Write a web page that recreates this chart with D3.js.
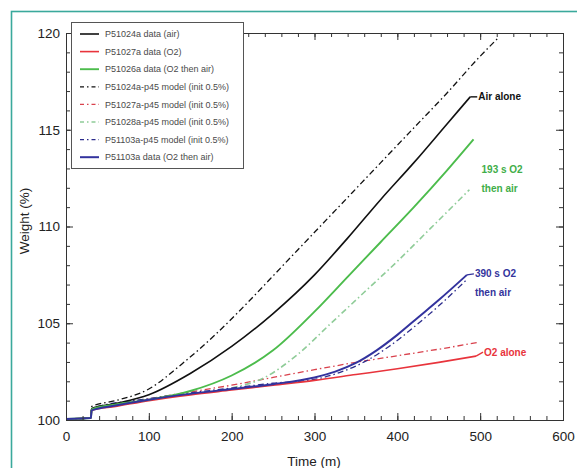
<!DOCTYPE html>
<html lang="en">
  <head>
    <meta charset="utf-8">
    <title>Weight vs time</title>
    <script src="https://d3js.org/d3.v7.min.js"></script>
    <style>
    body { margin: 0; background: #fff; }
    svg text { font-family: "Liberation Sans", Arial, sans-serif; }
    .axis path, .axis line { stroke: #333; }
    .axis text { font-size: 13.5px; fill: #222; }
    .title { font-size: 13.5px; fill: #222; }
    .legend text { font-size: 9px; fill: #4a4a4a; }
    .note { font-size: 10px; font-weight: bold; }
    </style>
  </head>
  <body>
    <svg id="chart" width="577" height="468"></svg>
    <script>

// series: [time (m), weight (%)]
const p51024aData = [[0,100.05],[30,100.1],[31,100.6],[60,100.85],[100,101.3],[150,102.4],[200,103.8],[250,105.5],[300,107.5],[340,109.4],[380,111.4],[420,113.3],[460,115.3],[488,116.7]];
const p51027aData = [[0,100.05],[30,100.1],[31,100.5],[60,100.7],[100,101.0],[150,101.3],[200,101.55],[250,101.8],[300,102.05],[350,102.35],[400,102.65],[450,102.98],[495,103.3]];
const p51026aData = [[0,100.05],[30,100.1],[31,100.55],[60,100.8],[100,101.05],[150,101.5],[200,102.3],[250,103.6],[300,105.6],[340,107.4],[380,109.2],[420,111.0],[460,112.9],[492,114.5]];
const p51024aModel = [[0,100.05],[30,100.1],[31,100.7],[60,101.0],[100,101.6],[140,102.9],[180,104.4],[220,106.1],[260,107.9],[300,109.7],[340,111.5],[380,113.3],[420,115.1],[460,116.9],[500,118.8],[523,119.8]];
const p51027aModel = [[0,100.05],[30,100.1],[31,100.55],[100,101.1],[150,101.45],[200,101.8],[250,102.2],[300,102.6],[350,102.98],[400,103.32],[450,103.66],[496,104.0]];
const p51028aModel = [[0,100.05],[30,100.1],[31,100.55],[100,101.05],[150,101.35],[200,101.65],[240,102.2],[280,103.4],[320,105.0],[360,106.6],[400,108.2],[440,109.9],[487,111.9]];
const p51103aModel = [[0,100.05],[30,100.1],[31,100.6],[100,101.1],[150,101.4],[200,101.65],[250,101.9],[300,102.1],[330,102.45],[360,103.0],[390,103.8],[420,104.8],[450,105.9],[485,107.3]];
const p51103aData = [[0,100.05],[30,100.1],[31,100.5],[60,100.75],[100,101.05],[150,101.35],[200,101.6],[250,101.85],[300,102.2],[325,102.5],[350,102.95],[375,103.6],[400,104.4],[425,105.3],[450,106.2],[484,107.5]];

const seriesNames = ["P51024a data (air)", "P51027a data (O2)", "P51026a data (O2 then air)",
  "P51024a-p45 model (init 0.5%)", "P51027a-p45 model (init 0.5%)", "P51028a-p45 model (init 0.5%)",
  "P51103a-p45 model (init 0.5%)", "P51103a data (O2 then air)"];

const xTicks = [0, 100, 200, 300, 400, 500, 600];
const yTicks = [100, 105, 110, 115, 120];

const series = [
  {name: seriesNames[3], values: p51024aModel, color: "#111", dash: "6,3,1.5,3", width: 1.3},
  {name: seriesNames[4], values: p51027aModel, color: "#d9424d", dash: "6,3,1.5,3", width: 1.3},
  {name: seriesNames[5], values: p51028aModel, color: "#8fcc98", dash: "6,3,1.5,3", width: 1.6},
  {name: seriesNames[6], values: p51103aModel, color: "#2c2c8c", dash: "6,3,1.5,3", width: 1.3},
  {name: seriesNames[0], values: p51024aData, color: "#111", dash: null, width: 1.6},
  {name: seriesNames[1], values: p51027aData, color: "#e8343c", dash: null, width: 1.6},
  {name: seriesNames[2], values: p51026aData, color: "#4cbc4c", dash: null, width: 1.9},
  {name: seriesNames[7], values: p51103aData, color: "#33339e", dash: null, width: 2}
];
const legendOrder = [4, 5, 6, 0, 1, 2, 3, 7];

const svg = d3.select("#chart");

// teal frame
svg.append("rect")
    .attr("x", 11.5)
    .attr("y", 11.5)
    .attr("width", 600)
    .attr("height", 500)
    .attr("fill", "none")
    .attr("stroke", "#3aa99c")
    .attr("stroke-width", 1.6);

const xScale = d3.scaleLinear().domain([0, 600]).range([66, 563]);
const yScale = d3.scaleLinear().domain([100, 120]).range([420, 33]);

const line = d3.line()
    .x(d => xScale(d[0]))
    .y(d => yScale(d[1]))
    .curve(d3.curveMonotoneX);

svg.selectAll("path.series")
    .data(series)
    .enter()
    .append("path")
    .attr("class", "series")
    .attr("d", d => line(d.values))
    .attr("fill", "none")
    .attr("stroke", d => d.color)
    .attr("stroke-width", d => d.width)
    .attr("stroke-dasharray", d => d.dash);

// axes, ticks pointing inward on all four sides
const minorX = d3.range(0, 601, 20);
const minorY = d3.range(100, 121, 1);

svg.append("g").attr("class", "axis")
    .attr("transform", "translate(0,420)")
    .call(d3.axisBottom(xScale).tickValues(minorX).tickSize(-4).tickFormat(""));
svg.append("g").attr("class", "axis")
    .attr("transform", "translate(0,420)")
    .call(d3.axisBottom(xScale).tickValues(xTicks).tickSizeInner(-7).tickSizeOuter(0).tickPadding(11));
svg.append("g").attr("class", "axis")
    .attr("transform", "translate(0,33)")
    .call(d3.axisTop(xScale).tickValues(minorX).tickSize(-4).tickFormat(""));
svg.append("g").attr("class", "axis")
    .attr("transform", "translate(0,33)")
    .call(d3.axisTop(xScale).tickValues(xTicks).tickSize(-7).tickFormat(""));

svg.append("g").attr("class", "axis")
    .attr("transform", "translate(66,0)")
    .call(d3.axisLeft(yScale).tickValues(minorY).tickSize(-4).tickFormat(""));
svg.append("g").attr("class", "axis")
    .attr("transform", "translate(66,0)")
    .call(d3.axisLeft(yScale).tickValues(yTicks).tickSizeInner(-7).tickSizeOuter(0).tickPadding(6));
svg.append("g").attr("class", "axis")
    .attr("transform", "translate(563,0)")
    .call(d3.axisRight(yScale).tickValues(minorY).tickSize(-4).tickFormat(""));
svg.append("g").attr("class", "axis")
    .attr("transform", "translate(563,0)")
    .call(d3.axisRight(yScale).tickValues(yTicks).tickSize(-7).tickFormat(""));

svg.append("text")
    .attr("class", "title")
    .attr("text-anchor", "middle")
    .attr("x", 314)
    .attr("y", 466)
    .text("Time (m)");

svg.append("text")
    .attr("class", "title")
    .attr("text-anchor", "middle")
    .attr("transform", "translate(29,221) rotate(-90)")
    .text("Weight (%)");

// end-of-curve notes
const notes = [
  {s: p51024aData, lines: ["Air  alone"], color: "#111", dy: 0},
  {s: p51026aData, lines: ["193 s O2", "then air"], color: "#3fae49", dy: 30},
  {s: p51103aData, lines: ["390 s O2", "then air"], color: "#34349c", dy: -1},
  {s: p51027aData, lines: ["O2 alone"], color: "#e8343c", dy: -4}
];

notes.forEach(n => {
  const last = n.s[n.s.length - 1];
  const ex = xScale(last[0]);
  const ey = yScale(last[1]);
  if (n.dy < 5) {
    svg.append("line")
      .attr("x1", ex).attr("y1", ey)
      .attr("x2", ex + 7).attr("y2", ey + n.dy)
      .attr("stroke", n.color)
      .attr("stroke-width", 1.4);
  }
  n.lines.forEach((t, i) => {
    svg.append("text")
      .attr("class", "note")
      .attr("x", ex + 8)
      .attr("y", ey + n.dy + i * 19)
      .attr("dy", "0.35em")
      .attr("fill", n.color)
      .text(t);
  });
});

// legend
const legend = svg.append("g").attr("class", "legend");
legend.append("rect")
    .attr("x", 71.5)
    .attr("y", 22.5)
    .attr("width", 172)
    .attr("height", 146)
    .attr("fill", "#fff")
    .attr("stroke", "#555");

const rows = legend.selectAll("g.row")
    .data(legendOrder.map(i => series[i]))
    .enter()
    .append("g")
    .attr("class", "row")
    .attr("transform", (d, i) => "translate(0," + (34 + i * 17.6) + ")");

rows.append("line")
    .attr("x1", 80)
    .attr("x2", 99)
    .attr("stroke", d => d.color)
    .attr("stroke-width", d => d.width)
    .attr("stroke-dasharray", d => d.dash ? "4,3,1.5,3" : null);

rows.append("text")
    .attr("x", 105)
    .attr("dy", "0.35em")
    .text(d => d.name);

    </script>
  </body>
</html>
